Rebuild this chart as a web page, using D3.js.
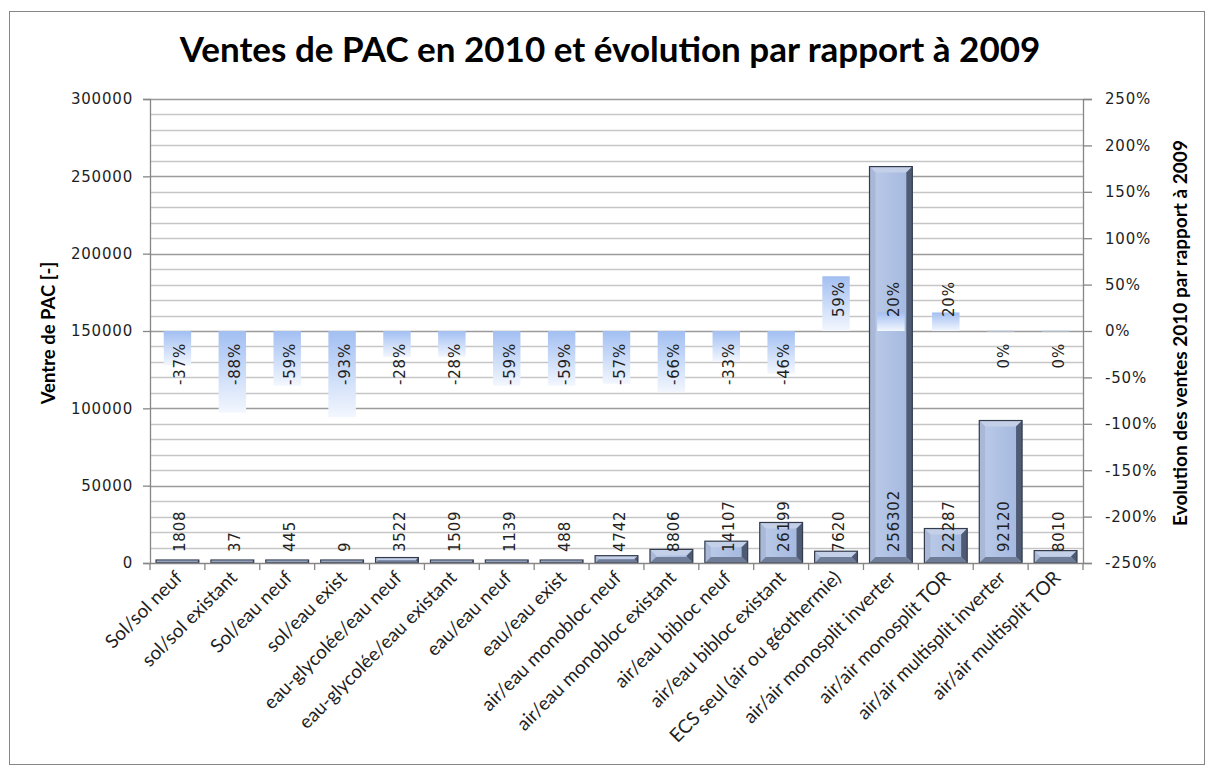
<!DOCTYPE html>
<html>
<head>
<meta charset="utf-8">
<script src="https://cdn.jsdelivr.net/npm/d3@7"></script>
<style>
  body { margin: 0; background: #fff; }
  svg { display: block; }
</style>
</head>
<body>
<div id="chart"></div>
<script>
// données
const categories = [
  "Sol/sol neuf", "sol/sol existant", "Sol/eau neuf", "sol/eau exist",
  "eau-glycolée/eau neuf", "eau-glycolée/eau existant", "eau/eau neuf", "eau/eau exist",
  "air/eau monobloc neuf", "air/eau monobloc existant", "air/eau bibloc neuf",
  "air/eau bibloc existant", "ECS seul (air ou géothermie)", "air/air monosplit inverter",
  "air/air monosplit TOR", "air/air multisplit inverter", "air/air multisplit TOR"
];
const ventes2010 = [1808, 37, 445, 9, 3522, 1509, 1139, 488, 4742, 8806, 14107, 26199, 7620, 256302, 22287, 92120, 8010];
const evolution = [-37, -88, -59, -93, -28, -28, -59, -59, -57, -66, -33, -46, 59, 20, 20, 0, 0];
const leftTicks = [0, 50000, 100000, 150000, 200000, 250000, 300000];
const rightTicks = [-250, -200, -150, -100, -50, 0, 50, 100, 150, 200, 250];

const W = 1213, H = 771;
const plotL = 150, plotR = 1083, plotT = 99, plotB = 563;

const svg = d3.select("#chart").append("svg")
  .attr("width", W).attr("height", H);

const defs = svg.append("defs");
const gMain = defs.append("linearGradient").attr("id", "gMain")
  .attr("x1", 0).attr("x2", 1).attr("y1", 0).attr("y2", 0);
gMain.append("stop").attr("offset", "0%").attr("stop-color", "#bccbe8");
gMain.append("stop").attr("offset", "100%").attr("stop-color", "#a2b7df");

const gEvo = defs.append("linearGradient").attr("id", "gEvo")
  .attr("x1", 0).attr("x2", 0).attr("y1", 0).attr("y2", 1);
gEvo.append("stop").attr("offset", "0%").attr("stop-color", "#a2bff2");
gEvo.append("stop").attr("offset", "100%").attr("stop-color", "#f3f7fe");

// cadre
svg.append("rect")
  .attr("x", 9.5).attr("y", 11.5).attr("width", 1195).attr("height", 753)
  .attr("fill", "#fff").attr("stroke", "#868686");

// échelles
const x = d3.scaleBand().domain(categories).range([plotL, plotR])
  .paddingInner(0.22).paddingOuter(0.11);
const x2 = d3.scaleBand().domain(categories).range([plotL, plotR])
  .paddingInner(0.5).paddingOuter(0.25);
const yL = d3.scaleLinear().domain([0, 300000]).range([plotB, plotT]);
const yR = d3.scaleLinear().domain([-250, 250]).range([plotB, plotT]);

// grille
svg.append("g").selectAll("line")
  .data(d3.range(10000, 300001, 10000))
  .enter().append("line")
  .attr("x1", plotL).attr("x2", plotR)
  .attr("y1", d => Math.round(yL(d)) + 0.5)
  .attr("y2", d => Math.round(yL(d)) + 0.5)
  .attr("stroke", d => d % 50000 === 0 ? "#9a9a9a" : "#c6c6c6")
  .attr("stroke-width", 1.3);

// axes
const axisL = svg.append("g").attr("transform", `translate(${plotL},0)`)
  .call(d3.axisLeft(yL).tickValues(leftTicks).tickSize(7).tickPadding(10).tickFormat(d3.format("d")));
const axisR = svg.append("g").attr("transform", `translate(${plotR},0)`)
  .call(d3.axisRight(yR).tickValues(rightTicks).tickSize(9).tickPadding(13).tickFormat(d => d + "%"));
[axisL, axisR].forEach(a => {
  a.select(".domain").attr("stroke", "#868686").attr("stroke-width", 1.3);
  a.selectAll(".tick line").attr("stroke", "#868686").attr("stroke-width", 1.3);
  a.selectAll(".tick text")
    .attr("font-family", "DejaVu Sans").attr("font-size", 15)
    .attr("letter-spacing", 0.8).attr("fill", "#1f1f1f");
});

// barres ventes avec effet biseau
const bars = svg.append("g").selectAll("g")
  .data(categories.map((c, i) => ({ c, v: ventes2010[i] })))
  .enter().append("g");

bars.each(function (d) {
  const g = d3.select(this);
  const x0 = x(d.c), w = x.bandwidth();
  const y0 = Math.min(yL(d.v), plotB - 3), h = plotB - y0;
  const b = Math.min(6, h / 2, w / 2);
  g.append("rect").attr("x", x0).attr("y", y0).attr("width", w).attr("height", h)
    .attr("fill", "url(#gMain)");
  const pts = [
    [[x0, y0], [x0 + w, y0], [x0 + w - b, y0 + b], [x0 + b, y0 + b], "#c4d0e7"],
    [[x0, y0], [x0 + b, y0 + b], [x0 + b, y0 + h - b], [x0, y0 + h], "#a9b8d6"],
    [[x0 + w, y0], [x0 + w, y0 + h], [x0 + w - b, y0 + h - b], [x0 + w - b, y0 + b], "#4f5a73"],
    [[x0, y0 + h], [x0 + b, y0 + h - b], [x0 + w - b, y0 + h - b], [x0 + w, y0 + h], "#707d98"]
  ];
  pts.forEach(p => {
    g.append("polygon").attr("points", p.slice(0, 4).map(q => q.join(",")).join(" "))
      .attr("fill", p[4]);
  });
  g.append("rect").attr("x", x0).attr("y", y0).attr("width", w).attr("height", h)
    .attr("fill", "none").attr("stroke", "#333b4d").attr("stroke-width", 1.2);
});

// axe des catégories
svg.append("line").attr("x1", plotL).attr("x2", plotR)
  .attr("y1", plotB + 0.5).attr("y2", plotB + 0.5)
  .attr("stroke", "#868686").attr("stroke-width", 1.3);
svg.append("g").selectAll("line")
  .data(d3.range(categories.length + 1))
  .enter().append("line")
  .attr("x1", i => plotL + i * x.step()).attr("x2", i => plotL + i * x.step())
  .attr("y1", plotB).attr("y2", plotB + 7)
  .attr("stroke", "#868686").attr("stroke-width", 1.3);

// barres évolution (axe secondaire)
svg.append("g").selectAll("rect")
  .data(categories.map((c, i) => ({ c, e: evolution[i] })))
  .enter().append("rect")
  .attr("x", d => x2(d.c))
  .attr("width", x2.bandwidth())
  .attr("y", d => d.e === 0 ? yR(0) - 1 : Math.min(yR(d.e), yR(0)))
  .attr("height", d => d.e === 0 ? 2 : Math.abs(yR(d.e) - yR(0)))
  .attr("fill", "url(#gEvo)")
  .attr("opacity", d => d.e === 0 ? 0.4 : 1);

// étiquettes des ventes
svg.append("g").selectAll("text")
  .data(categories.map((c, i) => ({ c, v: ventes2010[i] })))
  .enter().append("text")
  .attr("transform", d => `translate(${x(d.c) + x.bandwidth() / 2 + 3},${plotB - 11}) rotate(-90)`)
  .attr("dominant-baseline", "central")
  .attr("font-family", "DejaVu Sans").attr("font-size", 15).attr("letter-spacing", 0.8)
  .attr("fill", "#1f1f1f")
  .text(d => d.v);

// étiquettes évolution
svg.append("g").selectAll("text")
  .data(categories.map((c, i) => ({ c, e: evolution[i] })))
  .enter().append("text")
  .attr("transform", d => `translate(${x(d.c) + x.bandwidth() / 2 + 3},${d.e > 0 ? yR(0) - 14 : yR(0) + 12}) rotate(-90)`)
  .attr("text-anchor", d => d.e > 0 ? "start" : "end")
  .attr("dominant-baseline", "central")
  .attr("font-family", "DejaVu Sans").attr("font-size", 15).attr("letter-spacing", 0.8)
  .attr("fill", "#1f1f1f")
  .text(d => d.e + "%");

// libellés des catégories
svg.append("g").selectAll("text")
  .data(categories)
  .enter().append("text")
  .attr("transform", d => `translate(${x(d) + x.bandwidth() / 2 + 6},${plotB + 16}) rotate(-45)`)
  .attr("text-anchor", "end")
  .attr("font-family", "Lato").attr("font-size", 19)
  .attr("fill", "#1f1f1f")
  .text(d => d);

// titres
svg.append("text")
  .attr("x", 610).attr("y", 62)
  .attr("text-anchor", "middle")
  .attr("font-family", "Lato").attr("font-weight", "bold").attr("font-size", 35)
  .attr("fill", "#000")
  .text("Ventes de PAC en 2010 et évolution par rapport à 2009");

svg.append("text")
  .attr("transform", "translate(48,333) rotate(-90)")
  .attr("text-anchor", "middle").attr("dominant-baseline", "central")
  .attr("font-family", "Lato").attr("font-weight", "bold").attr("font-size", 18.5)
  .attr("fill", "#000")
  .text("Ventre de PAC [-]");

svg.append("text")
  .attr("transform", "translate(1179,333) rotate(-90)")
  .attr("text-anchor", "middle").attr("dominant-baseline", "central")
  .attr("font-family", "Lato").attr("font-weight", "bold").attr("font-size", 19)
  .attr("fill", "#000")
  .text("Evolution des ventes 2010 par rapport à 2009");
</script>
</body>
</html>
